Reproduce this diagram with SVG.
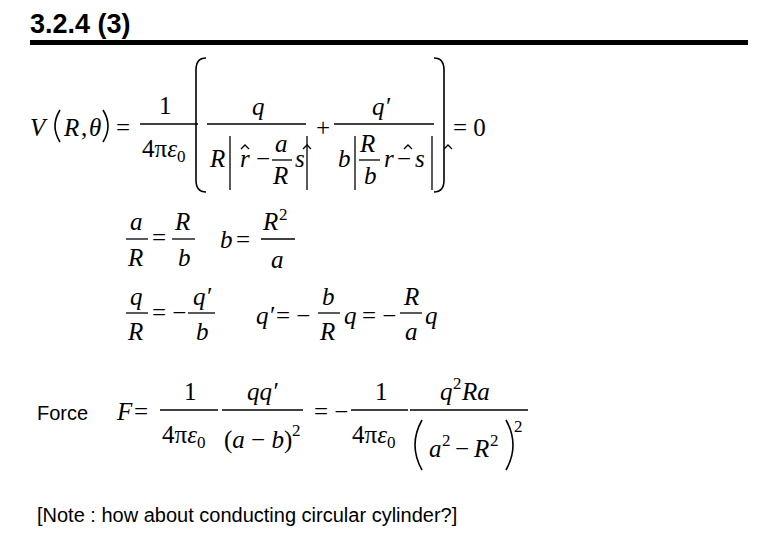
<svg xmlns="http://www.w3.org/2000/svg" width="780" height="540" viewBox="0 0 780 540">
<style>
text{font-family:"Liberation Serif","Times New Roman",serif;font-size:25px;fill:#000}
.i{font-style:italic}
.sup{font-size:17px}
.s{font-family:"Liberation Sans",Arial,sans-serif;font-size:20px}
.l{stroke:#000;stroke-width:1.3;fill:none}
.p{stroke:#000;stroke-width:1.6;fill:none}
</style>
<rect width="780" height="540" fill="#fff"/>
<g id="title"><text x="30" y="33" class="s" style="font-weight:bold;font-size:27px">3.2.4 (3)</text>
<rect x="30" y="40" width="718" height="5" fill="#000"/></g>
<g id="eq1">
<text x="30" y="136" class="i">V</text>
<path class="p" d="M60 110 Q50 126 60 142"/>
<text x="64" y="136" class="i">R</text><text x="81" y="136">,</text><text x="89" y="136" class="i">θ</text>
<path class="p" d="M103 110 Q113 126 103 142"/>
<text x="116" y="136">=</text>
<text x="159" y="114">1</text><line class="l" x1="140" y1="124" x2="198" y2="124"/>
<text x="142" y="157">4π<tspan class="i">ε</tspan><tspan class="sup" dy="5">0</tspan></text>
<path class="p" d="M206 58 Q196 58 196 70 L196 180 Q196 192 206 192"/>
<text x="252" y="115" class="i">q</text><line class="l" x1="207" y1="124" x2="306" y2="124"/>
<text x="210" y="167" class="i">R</text><line class="l" x1="230" y1="136" x2="230" y2="190"/>
<text x="240" y="167" class="i">r</text><path class="l" d="M241 149 L245 145 L249 149"/>
<text x="256" y="167">−</text>
<text x="275" y="152" class="i">a</text><line class="l" x1="272" y1="160" x2="292" y2="160"/><text x="273" y="184" class="i">R</text>
<text x="295" y="167" class="i">s</text><path class="l" d="M303 149 L307 145 L311 149"/>
<line class="l" x1="307" y1="136" x2="307" y2="190"/>
<text x="316" y="136">+</text>
<text x="372" y="115" class="i">q′</text><line class="l" x1="334" y1="124" x2="434" y2="124"/>
<text x="338" y="167" class="i">b</text><line class="l" x1="355" y1="136" x2="355" y2="190"/>
<text x="360" y="152" class="i">R</text><line class="l" x1="359" y1="160" x2="380" y2="160"/><text x="364" y="184" class="i">b</text>
<text x="384" y="167" class="i">r</text><text x="397" y="167">−</text><path class="l" d="M404 149 L408 145 L412 149"/>
<text x="415" y="167" class="i">s</text>
<line class="l" x1="432" y1="136" x2="432" y2="190"/><path class="l" d="M444 149 L448 145 L452 149"/>
<path class="p" d="M434 58 Q444 58 444 70 L444 180 Q444 192 434 192"/>
<text x="453" y="136">= 0</text>
</g>
<g id="eq2">
<text x="130" y="230" class="i">a</text><line class="l" x1="126" y1="239" x2="148" y2="239"/><text x="128" y="266" class="i">R</text>
<text x="152" y="246">=</text>
<text x="175" y="230" class="i">R</text><line class="l" x1="172" y1="239" x2="195" y2="239"/><text x="178" y="266" class="i">b</text>
<text x="220" y="248" class="i">b</text><text x="236" y="248">=</text>
<text x="263" y="230" class="i">R</text><text x="279" y="220" class="sup">2</text>
<line class="l" x1="261" y1="239" x2="295" y2="239"/><text x="271" y="268" class="i">a</text>
</g>
<g id="eq3">
<text x="130" y="305" class="i">q</text><line class="l" x1="126" y1="313" x2="148" y2="313"/><text x="128" y="340" class="i">R</text>
<text x="152" y="321">= −</text>
<text x="193" y="305" class="i">q′</text><line class="l" x1="188" y1="313" x2="215" y2="313"/><text x="196" y="340" class="i">b</text>
<text x="256" y="324" class="i">q′</text><text x="276" y="324">= −</text>
<text x="322" y="305" class="i">b</text><line class="l" x1="318" y1="313" x2="340" y2="313"/><text x="320" y="340" class="i">R</text>
<text x="344" y="324" class="i">q</text><text x="362" y="324">= −</text>
<text x="404" y="305" class="i">R</text><line class="l" x1="400" y1="313" x2="422" y2="313"/><text x="405" y="340" class="i">a</text>
<text x="425" y="324" class="i">q</text>
</g>
<g id="eq4">
<text x="37" y="420" class="s">Force</text>
<text x="117" y="420" class="i">F</text><text x="134" y="420">=</text>
<text x="184" y="400">1</text><line class="l" x1="160" y1="410" x2="218" y2="410"/>
<text x="162" y="443">4π<tspan class="i">ε</tspan><tspan class="sup" dy="5">0</tspan></text>
<text x="247" y="400" class="i">qq′</text><line class="l" x1="222" y1="410" x2="303" y2="410"/>
<text x="224" y="448">(<tspan class="i">a</tspan> − <tspan class="i">b</tspan>)</text><text x="292" y="436" class="sup">2</text>
<text x="314" y="420">= −</text>
<text x="375" y="400">1</text><line class="l" x1="351" y1="410" x2="408" y2="410"/>
<text x="352" y="443">4π<tspan class="i">ε</tspan><tspan class="sup" dy="5">0</tspan></text>
<line class="l" x1="410" y1="410" x2="528" y2="410"/>
<text x="440" y="400" class="i">q</text><text x="453" y="389" class="sup">2</text><text x="462" y="400" class="i">Ra</text>
<path class="p" d="M422 420 Q408 445 422 470"/>
<text x="429" y="457" class="i">a</text><text x="442" y="446" class="sup">2</text>
<text x="455" y="457">−</text>
<text x="474" y="457" class="i">R</text><text x="490" y="446" class="sup">2</text>
<path class="p" d="M506 420 Q520 445 506 470"/><text x="514" y="432" class="sup">2</text>
</g>
<text x="37" y="522" class="s">[Note : how about conducting circular cylinder?]</text>
</svg>
